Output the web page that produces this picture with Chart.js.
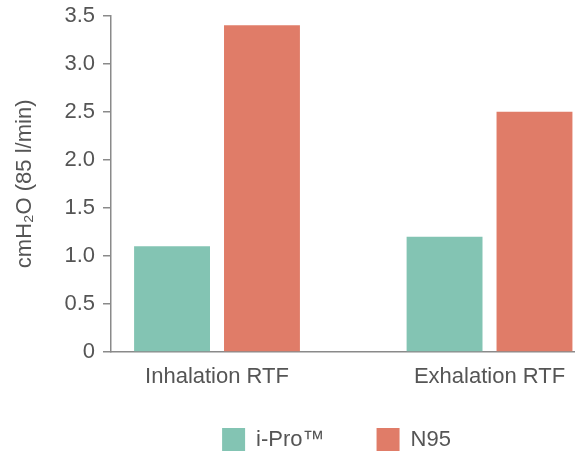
<!DOCTYPE html>
<html>
<head>
<meta charset="utf-8">
<script src="https://cdn.jsdelivr.net/npm/chart.js@4/dist/chart.umd.min.js"></script>
<style>
  html, body { margin: 0; padding: 0; background: #fff; }
  #wrap { width: 582px; height: 452px; }
</style>
</head>
<body>
<div id="wrap"><canvas id="bar-chart"></canvas></div>
<script>
const categories = ['Inhalation RTF', 'Exhalation RTF'];
const iproValues = [1.1, 1.2];
const n95Values = [3.4, 2.5];
const seriesNames = ['i-Pro\u2122', 'N95'];
const yTicks = [0, 0.5, 1.0, 1.5, 2.0, 2.5, 3.0, 3.5];

const FONT = '"Liberation Sans", Arial, sans-serif';
const TEXT = '#555555';
const AXIS = '#8a8a8a';

Chart.defaults.font.family = FONT;
Chart.defaults.color = TEXT;

// bars sit on a linear x scale so the groups can be placed off-centre like the original
const toPoints = values => values.map((v, i) => ({ x: i, y: v }));

// legend padding is shared by the item gap and the top margin, so pull the row up a bit
const legendNudge = {
    id: 'legendNudge',
    afterLayout(chart) {
        const lg = chart.legend;
        lg.top -= 14;
        lg.left -= 6;
        lg.right -= 6;
    }
};

const ctx = document.getElementById('bar-chart').getContext('2d');
window.barChart = new Chart(ctx, {
    type: 'bar',
    data: {
        datasets: [{
            label: seriesNames[0],
            data: toPoints(iproValues),
            backgroundColor: '#83c4b3',
            borderWidth: 0,
            categoryPercentage: 0.66,
            barPercentage: 0.844
        }, {
            label: seriesNames[1],
            data: toPoints(n95Values),
            backgroundColor: '#e07c68',
            borderWidth: 0,
            categoryPercentage: 0.66,
            barPercentage: 0.844
        }]
    },
    plugins: [legendNudge],
    options: {
        responsive: true,
        maintainAspectRatio: false,
        animation: false,
        layout: { padding: { top: 12, right: 8, left: 0, bottom: 0 } },
        plugins: {
            tooltip: { enabled: false },
            legend: {
                position: 'bottom',
                fullSize: false,
                maxHeight: 62,
                labels: {
                    boxWidth: 23,
                    boxHeight: 23,
                    padding: 52,
                    color: TEXT,
                    font: { size: 22, family: FONT }
                }
            }
        },
        scales: {
            x: {
                type: 'linear',
                offset: false,
                min: -0.389,
                max: 1.31,
                afterBuildTicks: scale => {
                    scale.ticks = categories.map((c, i) => ({ value: i }));
                },
                afterFit: scale => { scale.height = 38; },
                ticks: {
                    padding: 12,
                    color: TEXT,
                    font: { size: 22, family: FONT },
                    maxRotation: 0,
                    autoSkip: false,
                    callback: value => categories[value]
                },
                grid: { display: false, drawTicks: false, offset: false },
                border: { display: true, color: AXIS, width: 1.5 }
            },
            y: {
                min: 0,
                max: 3.5,
                afterBuildTicks: scale => {
                    scale.ticks = yTicks.map(v => ({ value: v }));
                },
                afterFit: scale => { scale.width = 111; },
                ticks: {
                    padding: 8,
                    color: TEXT,
                    font: { size: 22, family: FONT, lineHeight: 0.7 },
                    callback: value => value === 0 ? '0' : value.toFixed(1)
                },
                grid: {
                    drawOnChartArea: false,
                    drawTicks: true,
                    tickLength: 8,
                    color: AXIS,
                    lineWidth: 1.5
                },
                border: { display: true, color: AXIS, width: 1.5 },
                title: {
                    display: true,
                    text: 'cmH\u2082O (85 l/min)',
                    color: TEXT,
                    font: { size: 22, family: FONT },
                    padding: { top: 12, bottom: 0 }
                }
            }
        }
    }
});
</script>
</body>
</html>
